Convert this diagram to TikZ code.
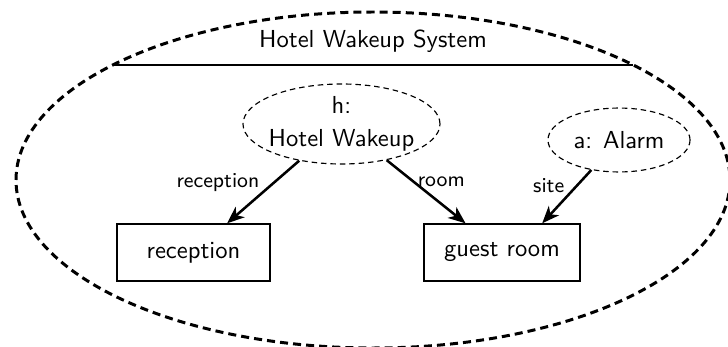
\documentclass[tikz,border=0pt]{standalone}
\usetikzlibrary{shapes.geometric,arrows.meta}
\begin{document}
\begin{tikzpicture}[
  x=0.435pt, y=-0.435pt,
  font=\sffamily\fontsize{10.7}{13}\selectfont,
  sysline/.style={line width=1.3pt, dash pattern=on 3.5pt off 2.2pt},
  part/.style={draw, line width=0.6pt, minimum height=24.8pt, inner sep=2pt},
  role/.style={draw, ellipse, line width=0.5pt, dash pattern=on 2.4pt off 1.7pt, inner sep=-1.5pt},
  conn/.style={line width=1.1pt, -{Stealth[length=7.5pt,width=6pt,inset=2.2pt]}},
  connlabel/.style={font=\sffamily\fontsize{9.2}{11}\selectfont}
]
\useasboundingbox (0,0) rectangle (728,347);

% enclosing structured class
\draw[sysline] (373,180) ellipse [x radius=357, y radius=168];
\node[anchor=base] (title) at (373,47) {Hotel Wakeup System};
\coordinate (sepL) at (113,65);
\coordinate (sepR) at (633,65);
\draw[line width=0.6pt] (sepL) -- (sepR);

% roles
\node[role, minimum width=85.7pt, minimum height=34.8pt, align=center,
      font=\sffamily\fontsize{10.7}{14.3}\selectfont] (h) at (341.5,124) {h:\\Hotel Wakeup};
\node[role, minimum width=61.8pt, minimum height=27.8pt] (alarm) at (619,140) {a: Alarm};

% parts
\node[part, minimum width=66.6pt] (rec) at (193.5,252.5) {reception};
\node[part, minimum width=67.9pt] (guest) at (502,252.5) {guest room};

% connectors
\draw[conn] (h) -- (rec) node[connlabel, pos=0.35, left=2.5pt] {reception};
\draw[conn] (h) -- (guest) node[connlabel, pos=0.35, anchor=west, inner sep=1pt] {room};
\draw[conn] (alarm) -- (guest.36) node[connlabel, pos=0.3, left=1.5pt] {site};
\end{tikzpicture}
\end{document}
